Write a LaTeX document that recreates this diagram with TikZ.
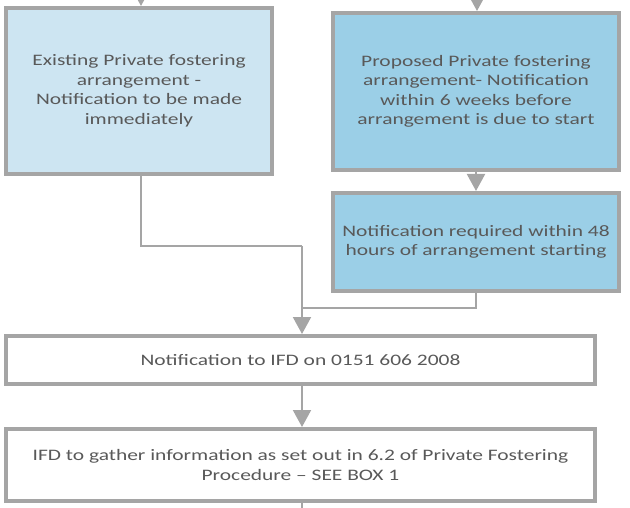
\documentclass[tikz,border=0pt]{standalone}
\usepackage{fontspec}
\setmainfont{Carlito}[FakeStretch=1.34]
\usetikzlibrary{arrows.meta}
\definecolor{bord}{HTML}{A5A5A5}
\definecolor{lightfill}{HTML}{CDE5F2}
\definecolor{darkfill}{HTML}{9BCFE7}
\definecolor{txt}{HTML}{595959}
\begin{document}
\begin{tikzpicture}[x=1pt,y=-1pt,
  box/.style={draw=bord, line width=4pt, align=center, text=txt,
    font=\fontsize{16}{19.5}\selectfont, inner sep=0pt, outer sep=2pt},
  conn/.style={draw=bord, line width=2pt},
  arr/.style={conn, -{Triangle[width=18pt,length=17pt]}}]
\useasboundingbox (0,0) rectangle (630,508);
\node[box, fill=lightfill, minimum width=266pt, minimum height=166pt] (A) at (139,91)
  {Existing Private fostering\\arrangement -\\Notification to be made\\immediately};
\node[box, fill=darkfill, minimum width=286pt, minimum height=157pt] (B) at (476,91.5)
  {Proposed Private fostering\\arrangement- Notification\\within 6 weeks before\\arrangement is due to start};
\node[box, fill=darkfill, minimum width=286pt, minimum height=98pt] (C) at (476,242)
  {Notification required within 48\\hours of arrangement starting};
\node[box, fill=white, minimum width=589pt, minimum height=48pt] (D) at (300.5,360)
  {Notification to IFD on 0151 606 2008};
\node[box, fill=white, minimum width=589pt, minimum height=72pt] (E) at (300.5,465)
  {IFD to gather information as set out in 6.2 of Private Fostering\\Procedure -- SEE BOX 1};
\coordinate (tA) at (141,-30);
\coordinate (tB) at (477,-30);
\coordinate (lx) at (141,0);
\coordinate (j1) at (302,246);
\coordinate (j2) at (302,308);
\coordinate (bot) at (302,515);
\draw[arr] (tA) -- (tA |- A.north);
\draw[arr] (tB) -- (tB |- B.north);
\draw[arr] (B.south) -- (C.north);
\draw[conn] (lx |- A.south) |- (j1);
\draw[conn] (C.south) |- (j2);
\draw[arr] (j1) -- (j1 |- D.north);
\draw[arr] (j1 |- D.south) -- (j1 |- E.north);
\draw[conn] (j1 |- E.south) -- (bot);
\end{tikzpicture}
\end{document}
